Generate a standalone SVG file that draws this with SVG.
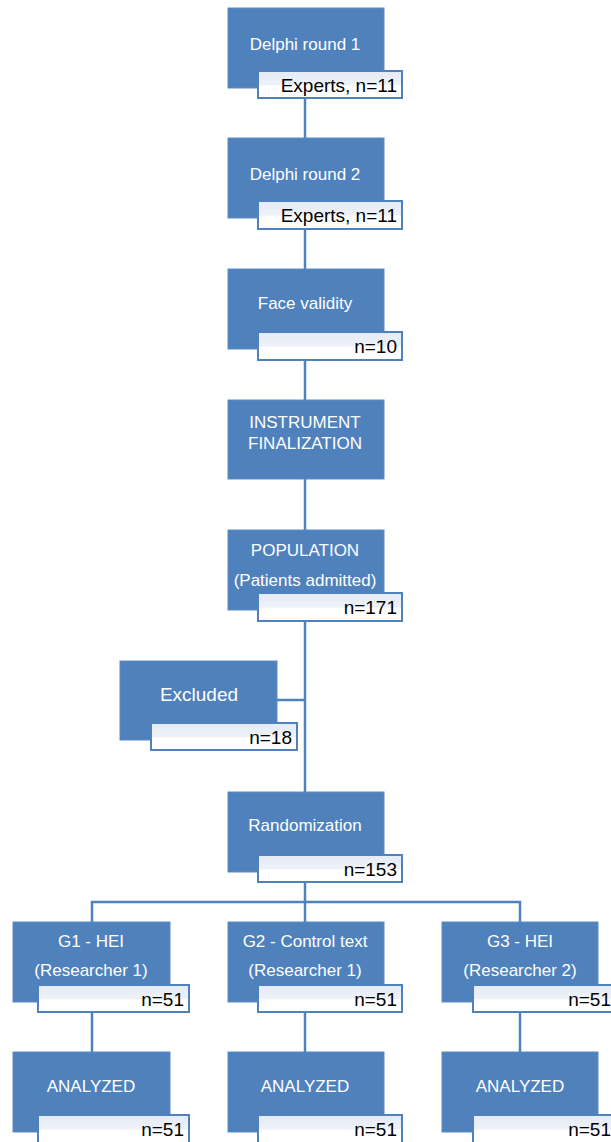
<svg xmlns="http://www.w3.org/2000/svg" width="611" height="1142" viewBox="0 0 611 1142">
<defs>
<linearGradient id="lg" x1="0" y1="0" x2="0" y2="1">
<stop offset="0" stop-color="#e4ebf5"/>
<stop offset="0.5" stop-color="#eef2f8"/>
<stop offset="0.55" stop-color="#ffffff"/>
<stop offset="1" stop-color="#ffffff"/>
</linearGradient>
<style>
.box{fill:#4f81bd;stroke:#5b8cc6;stroke-width:1}
.lab{fill:url(#lg);stroke:#4f81bd;stroke-width:2}
.wt{fill:#ffffff;font-family:"Liberation Sans",Arial,sans-serif;font-size:17px;text-anchor:middle}
.bt{fill:#000000;font-family:"Liberation Sans",Arial,sans-serif;font-size:19px;text-anchor:end}
.con{stroke:#4f81bd;stroke-width:2.5;fill:none}
</style>
</defs>
<rect width="611" height="1142" fill="#ffffff"/>
<g id="connectors">
<line class="con" x1="305" y1="98" x2="305" y2="138"/>
<line class="con" x1="305" y1="229" x2="305" y2="269"/>
<line class="con" x1="305" y1="360" x2="305" y2="400"/>
<line class="con" x1="305" y1="479" x2="305" y2="530"/>
<line class="con" x1="305" y1="621" x2="305" y2="792"/>
<line class="con" x1="277" y1="700" x2="305" y2="700"/>
<line class="con" x1="305" y1="882" x2="305" y2="922"/>
<polyline class="con" points="92,922 92,902 520,902 520,922"/>
<line class="con" x1="92" y1="1012" x2="92" y2="1052"/>
<line class="con" x1="305" y1="1012" x2="305" y2="1052"/>
<line class="con" x1="520" y1="1012" x2="520" y2="1052"/>
</g>
<g id="delphi1">
<rect class="box" x="228" y="8" width="156" height="80"/>
<text class="wt" x="305" y="50">Delphi round 1</text>
<rect class="lab" x="258" y="71" width="144" height="27"/>
<text class="bt" x="397" y="92">Experts, n=11</text>
</g>
<g id="delphi2">
<rect class="box" x="228" y="138" width="156" height="80"/>
<text class="wt" x="305" y="180">Delphi round 2</text>
<rect class="lab" x="258" y="201" width="144" height="28"/>
<text class="bt" x="397" y="222">Experts, n=11</text>
</g>
<g id="face">
<rect class="box" x="228" y="269" width="156" height="80"/>
<text class="wt" x="305" y="309">Face validity</text>
<rect class="lab" x="258" y="332" width="144" height="28"/>
<text class="bt" x="397" y="353">n=10</text>
</g>
<g id="instrument">
<rect class="box" x="228" y="400" width="156" height="79"/>
<text class="wt" x="305" y="428">INSTRUMENT</text>
<text class="wt" x="305" y="449">FINALIZATION</text>
</g>
<g id="population">
<rect class="box" x="228" y="530" width="156" height="80"/>
<text class="wt" x="305" y="556">POPULATION</text>
<text class="wt" x="305" y="586">(Patients admitted)</text>
<rect class="lab" x="258" y="593" width="144" height="28"/>
<text class="bt" x="397" y="614">n=171</text>
</g>
<g id="excluded">
<rect class="box" x="120" y="661" width="157" height="79"/>
<text class="wt" x="199" y="701" style="font-size:19px">Excluded</text>
<rect class="lab" x="151" y="723" width="146" height="27"/>
<text class="bt" x="292" y="744">n=18</text>
</g>
<g id="randomization">
<rect class="box" x="228" y="792" width="156" height="80"/>
<text class="wt" x="305" y="831">Randomization</text>
<rect class="lab" x="258" y="855" width="144" height="27"/>
<text class="bt" x="397" y="876">n=153</text>
</g>
<g id="g1">
<rect class="box" x="13" y="922" width="157" height="80"/>
<text class="wt" x="91" y="947">G1 - HEI</text>
<text class="wt" x="91" y="976">(Researcher 1)</text>
<rect class="lab" x="38" y="985" width="151" height="27"/>
<text class="bt" x="184" y="1006">n=51</text>
</g>
<g id="g2">
<rect class="box" x="228" y="922" width="156" height="80"/>
<text class="wt" x="305" y="947">G2 - Control text</text>
<text class="wt" x="305" y="976">(Researcher 1)</text>
<rect class="lab" x="258" y="985" width="144" height="27"/>
<text class="bt" x="397" y="1006">n=51</text>
</g>
<g id="g3">
<rect class="box" x="442" y="922" width="156" height="80"/>
<text class="wt" x="520" y="947">G3 - HEI</text>
<text class="wt" x="520" y="976">(Researcher 2)</text>
<rect class="lab" x="473" y="985" width="144" height="27"/>
<text class="bt" x="611" y="1006">n=51</text>
</g>
<g id="analyzed1">
<rect class="box" x="13" y="1052" width="157" height="80"/>
<text class="wt" x="91" y="1092">ANALYZED</text>
<rect class="lab" x="38" y="1115" width="151" height="28"/>
<text class="bt" x="184" y="1136">n=51</text>
</g>
<g id="analyzed2">
<rect class="box" x="228" y="1052" width="156" height="80"/>
<text class="wt" x="305" y="1092">ANALYZED</text>
<rect class="lab" x="258" y="1115" width="144" height="28"/>
<text class="bt" x="397" y="1136">n=51</text>
</g>
<g id="analyzed3">
<rect class="box" x="442" y="1052" width="156" height="80"/>
<text class="wt" x="520" y="1092">ANALYZED</text>
<rect class="lab" x="473" y="1115" width="144" height="28"/>
<text class="bt" x="611" y="1136">n=51</text>
</g>
</svg>
